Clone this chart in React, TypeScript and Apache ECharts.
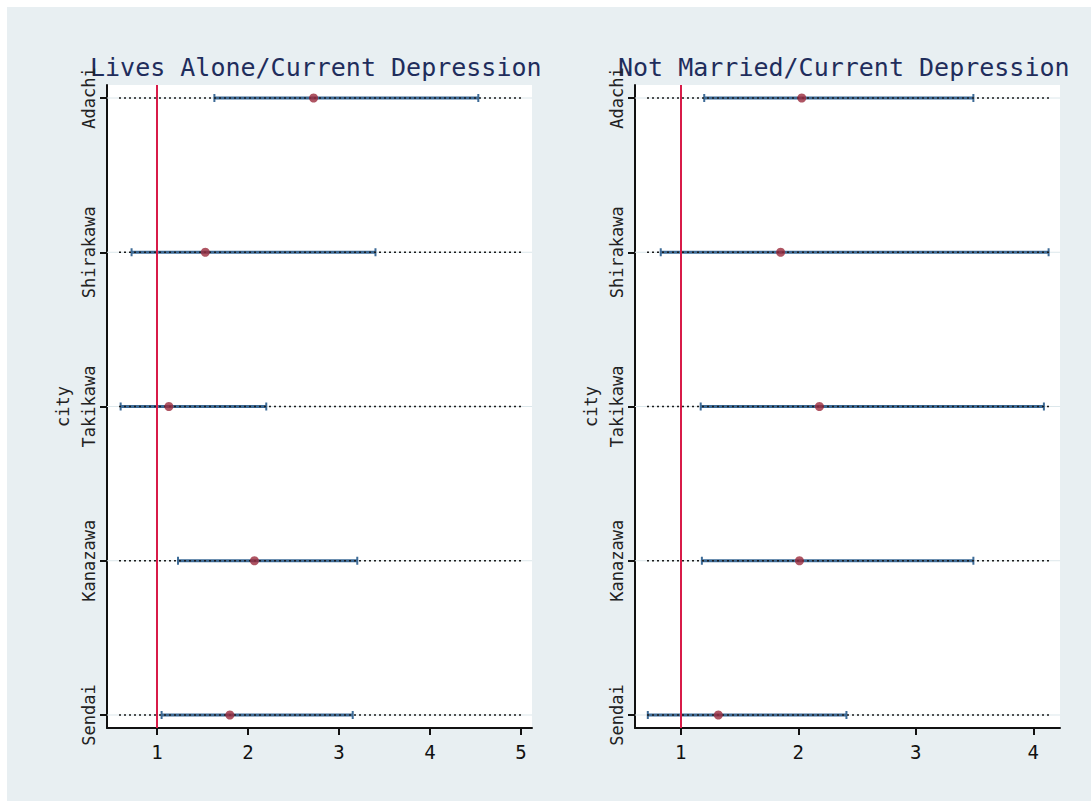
import React, { useEffect, useRef } from "react";
import * as echarts from "echarts";

// y = 1..5 from bottom to top
const cities = ["Sendai", "Kanazawa", "Takikawa", "Shirakawa", "Adachi"];

const aloneOR = [1.80, 2.07, 1.13, 1.53, 2.72];
const aloneLo = [1.05, 1.23, 0.60, 0.72, 1.63];
const aloneHi = [3.15, 3.20, 2.20, 3.40, 4.53];

const marriedOR = [1.32, 2.01, 2.18, 1.85, 2.03];
const marriedLo = [0.72, 1.18, 1.17, 0.83, 1.20];
const marriedHi = [2.41, 3.49, 4.09, 4.13, 3.49];

const leftTicks = [1, 2, 3, 4, 5];
const rightTicks = [1, 2, 3, 4];
const cityTicks = [1, 2, 3, 4, 5];

const titles = ["Lives Alone/Current Depression", "Not Married/Current Depression"];

const MONO = "'DejaVu Sans Mono', monospace";

function ciData(lo: number[], hi: number[]) {
  return cities.map((_, i) => [i + 1, lo[i], hi[i]]);
}
function ptData(or: number[]) {
  return cities.map((_, i) => [or[i], i + 1]);
}

const renderCI = (params: any, api: any) => {
  const y = api.value(0);
  const lo = api.value(1);
  const hi = api.value(2);
  const cs = params.coordSys;
  const a = api.coord([lo, y]);
  const b = api.coord([hi, y]);
  const yy = a[1];
  const blue = "#3d6b97";
  return {
    type: "group",
    children: [
      { type: "line", shape: { x1: cs.x, y1: yy, x2: cs.x + cs.width, y2: yy }, style: { stroke: "#dce7eb", lineWidth: 1 } },
      { type: "line", shape: { x1: a[0], y1: yy, x2: b[0], y2: yy }, style: { stroke: blue, lineWidth: 3 } },
      { type: "line", shape: { x1: a[0], y1: yy - 4, x2: a[0], y2: yy + 4 }, style: { stroke: blue, lineWidth: 2 } },
      { type: "line", shape: { x1: b[0], y1: yy - 4, x2: b[0], y2: yy + 4 }, style: { stroke: blue, lineWidth: 2 } },
      {
        type: "line",
        shape: { x1: cs.x + 12, y1: yy, x2: cs.x + cs.width - 11, y2: yy },
        style: { stroke: "#1c1c1c", lineWidth: 1.6, lineDash: [2, 3] },
      },
    ],
  };
};

function xAxisCfg(idx: number, min: number, max: number, ticks: number[]) {
  return {
    type: "value",
    gridIndex: idx,
    min,
    max,
    splitLine: { show: false },
    axisLine: { show: true, onZero: false, lineStyle: { color: "#111", width: 2 } },
    axisTick: { show: true, length: 7, customValues: ticks, lineStyle: { color: "#111", width: 2 } },
    axisLabel: { customValues: ticks, margin: 14, fontSize: 19, color: "#111", fontFamily: MONO },
  };
}

function yAxisCfg(idx: number) {
  return {
    type: "value",
    gridIndex: idx,
    min: 0.9157,
    max: 5.0843,
    name: "city",
    nameLocation: "middle",
    nameGap: 36,
    nameRotate: 90,
    nameTextStyle: { fontSize: 17, color: "#222", fontFamily: MONO },
    splitLine: { show: false },
    axisLine: { show: true, onZero: false, lineStyle: { color: "#111", width: 2 } },
    axisTick: { show: true, length: 7, customValues: cityTicks, lineStyle: { color: "#111", width: 2 } },
    axisLabel: {
      customValues: cityTicks,
      rotate: 90,
      margin: 10,
      fontSize: 17,
      color: "#222",
      fontFamily: MONO,
      formatter: (v: number) => cities[Math.round(v) - 1] || "",
    },
  };
}

const redLine = {
  silent: true,
  symbol: "none",
  label: { show: false },
  lineStyle: { color: "#d81b48", width: 2, type: "solid" },
  data: [{ xAxis: 1 }],
};

export default function App() {
  const ref = useRef<HTMLDivElement>(null);
  useEffect(() => {
    const chart = echarts.init(ref.current!, null, { renderer: "svg" });
    chart.setOption({
      animation: false,
      backgroundColor: "#e8eff2",
      grid: [
        { left: 100, top: 78, width: 425, height: 643, backgroundColor: "#ffffff", show: true, borderWidth: 0 },
        { left: 628, top: 78, width: 425, height: 643, backgroundColor: "#ffffff", show: true, borderWidth: 0 },
      ],
      xAxis: [xAxisCfg(0, 0.45, 5.12, leftTicks), xAxisCfg(1, 0.611, 4.227, rightTicks)],
      yAxis: [yAxisCfg(0), yAxisCfg(1)],
      graphic: [
        {
          type: "text",
          x: 83,
          y: 60,
          style: { text: titles[0], font: `25px ${MONO}`, fill: "#1f2d5c", verticalAlign: "middle" },
        },
        {
          type: "text",
          x: 611,
          y: 60,
          style: { text: titles[1], font: `25px ${MONO}`, fill: "#1f2d5c", verticalAlign: "middle" },
        },
      ],
      series: [
        {
          type: "custom",
          xAxisIndex: 0,
          yAxisIndex: 0,
          renderItem: renderCI,
          encode: { x: [1, 2], y: 0 },
          data: ciData(aloneLo, aloneHi),
          z: 2,
        },
        {
          type: "scatter",
          xAxisIndex: 0,
          yAxisIndex: 0,
          data: ptData(aloneOR),
          symbol: "circle",
          symbolSize: 9,
          itemStyle: { color: "#9b2a3c" },
          markLine: redLine,
          z: 3,
        },
        {
          type: "custom",
          xAxisIndex: 1,
          yAxisIndex: 1,
          renderItem: renderCI,
          encode: { x: [1, 2], y: 0 },
          data: ciData(marriedLo, marriedHi),
          z: 2,
        },
        {
          type: "scatter",
          xAxisIndex: 1,
          yAxisIndex: 1,
          data: ptData(marriedOR),
          symbol: "circle",
          symbolSize: 9,
          itemStyle: { color: "#9b2a3c" },
          markLine: redLine,
          z: 3,
        },
      ],
    });
    return () => chart.dispose();
  }, []);
  return (
    <div
      ref={ref}
      style={{ position: "fixed", left: 7, top: 7, width: 1090, height: 800 }}
    />
  );
}
